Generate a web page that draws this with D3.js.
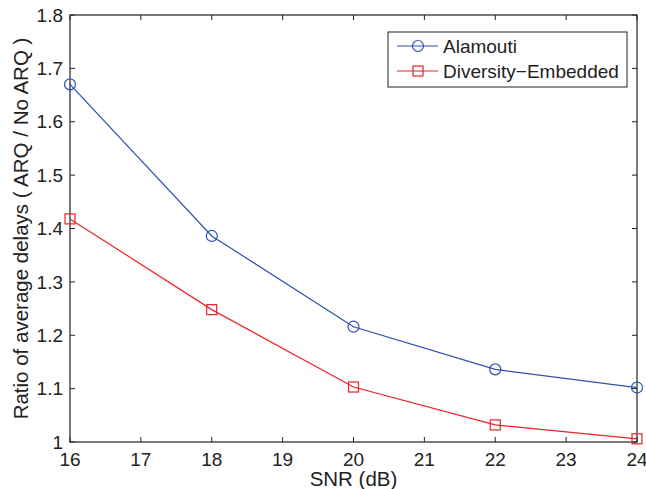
<!DOCTYPE html>
<html>
<head>
<meta charset="utf-8">
<script src="https://cdn.jsdelivr.net/npm/d3@7"></script>
<style>
  body { margin: 0; background: #fff; }
  text { font-family: "Liberation Sans", Arial, sans-serif; fill: #222; }
</style>
</head>
<body>
<svg width="646" height="489"></svg>
<script>
    // Data
    const snr = [16, 18, 20, 22, 24];
    const alamouti = [1.67, 1.386, 1.216, 1.136, 1.102];
    const diversity = [1.418, 1.248, 1.103, 1.032, 1.006];
    const xTicks = [16, 17, 18, 19, 20, 21, 22, 23, 24];
    const yTicks = [1, 1.1, 1.2, 1.3, 1.4, 1.5, 1.6, 1.7, 1.8];

    const margin = { top: 15, right: 9, bottom: 47, left: 70 };
    const width = 646, height = 489;
    const w = width - margin.left - margin.right;
    const h = height - margin.top - margin.bottom;
    const tickLen = 5;
    const blue = "#2f4fb2";
    const red = "#ec2228";

    const svg = d3.select("svg");
    const g = svg.append("g").attr("transform", `translate(${margin.left},${margin.top})`);

    const x = d3.scaleLinear().domain([16, 24]).range([0, w]);
    const y = d3.scaleLinear().domain([1, 1.8]).range([h, 0]);

    // Ticks (inside, on all four sides)
    xTicks.forEach(t => {
        g.append("line").attr("x1", x(t)).attr("x2", x(t)).attr("y1", h).attr("y2", h - tickLen)
            .attr("stroke", "#222");
        g.append("line").attr("x1", x(t)).attr("x2", x(t)).attr("y1", 0).attr("y2", tickLen)
            .attr("stroke", "#222");
        g.append("text").attr("x", x(t)).attr("y", h + 24).attr("text-anchor", "middle")
            .attr("font-size", "19px").text(t);
    });
    yTicks.forEach(t => {
        g.append("line").attr("x1", 0).attr("x2", tickLen).attr("y1", y(t)).attr("y2", y(t))
            .attr("stroke", "#222");
        g.append("line").attr("x1", w).attr("x2", w - tickLen).attr("y1", y(t)).attr("y2", y(t))
            .attr("stroke", "#222");
        g.append("text").attr("x", -7).attr("y", y(t)).attr("dy", "0.35em").attr("text-anchor", "end")
            .attr("font-size", "19px").text(d3.format("")(t));
    });

    // Frame
    g.append("rect").attr("width", w).attr("height", h)
        .attr("fill", "none").attr("stroke", "#222").attr("stroke-width", 1.2);

    const line = d3.line().x((d, i) => x(snr[i])).y(d => y(d));

    // Alamouti
    g.append("path").datum(alamouti).attr("d", line)
        .attr("fill", "none").attr("stroke", blue).attr("stroke-width", 1.2);
    g.selectAll(".circ").data(alamouti).enter().append("circle")
        .attr("cx", (d, i) => x(snr[i])).attr("cy", d => y(d)).attr("r", 5.5)
        .attr("fill", "none").attr("stroke", blue).attr("stroke-width", 1.2);

    // Diversity-Embedded
    g.append("path").datum(diversity).attr("d", line)
        .attr("fill", "none").attr("stroke", red).attr("stroke-width", 1.2);
    g.selectAll(".sq").data(diversity).enter().append("rect")
        .attr("x", (d, i) => x(snr[i]) - 5).attr("y", d => y(d) - 5)
        .attr("width", 10).attr("height", 10)
        .attr("fill", "none").attr("stroke", red).attr("stroke-width", 1.2);

    // Axis labels
    svg.append("text").attr("x", margin.left + w / 2).attr("y", 486).attr("text-anchor", "middle")
        .attr("font-size", "20.5px").text("SNR (dB)");
    svg.append("text").attr("transform", `translate(28,${margin.top + h / 2}) rotate(-90)`)
        .attr("text-anchor", "middle").attr("font-size", "20.5px")
        .text("Ratio of average delays ( ARQ / No ARQ )");

    // Legend
    const legend = svg.append("g").attr("transform", "translate(388,32)");
    legend.append("rect").attr("width", 239).attr("height", 55)
        .attr("fill", "#fff").attr("stroke", "#222").attr("stroke-width", 1);
    const items = [
        { name: "Alamouti", color: blue, marker: "circle" },
        { name: "Diversity\u2212Embedded", color: red, marker: "square" }
    ];
    items.forEach((it, i) => {
        const ly = 14 + i * 25;
        legend.append("line").attr("x1", 9).attr("x2", 50).attr("y1", ly).attr("y2", ly)
            .attr("stroke", it.color).attr("stroke-width", 1.2);
        if (it.marker === "circle") {
            legend.append("circle").attr("cx", 30).attr("cy", ly).attr("r", 5.5)
                .attr("fill", "none").attr("stroke", it.color).attr("stroke-width", 1.2);
        } else {
            legend.append("rect").attr("x", 25).attr("y", ly - 5).attr("width", 10).attr("height", 10)
                .attr("fill", "none").attr("stroke", it.color).attr("stroke-width", 1.2);
        }
        legend.append("text").attr("x", 55).attr("y", ly).attr("dy", "0.35em")
            .attr("font-size", "19px").text(it.name);
    });
</script>
</body>
</html>
